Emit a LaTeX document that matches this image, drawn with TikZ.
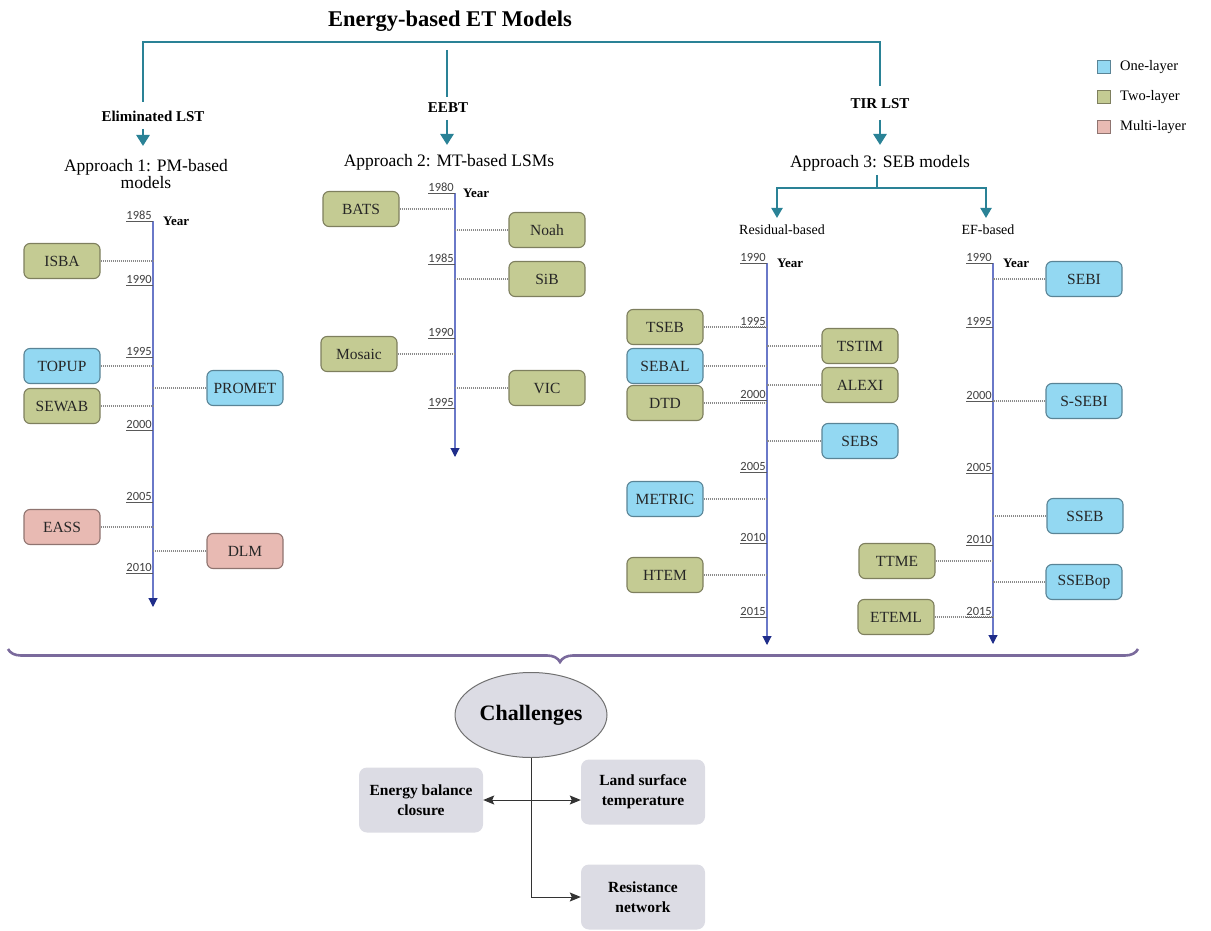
\documentclass[tikz,border=0pt]{standalone}
\usepackage{fontspec}
\setmainfont{Liberation Serif}
\newfontfamily\yrfont{Carlito}
\usetikzlibrary{arrows.meta,shapes.geometric,decorations.pathreplacing}

\definecolor{tealc}{HTML}{2A8296}
\definecolor{cyanfill}{HTML}{93D8F2}
\definecolor{cyanedge}{HTML}{5A8496}
\definecolor{greenfill}{HTML}{C4CB93}
\definecolor{greenedge}{HTML}{7E7F5E}
\definecolor{pinkfill}{HTML}{E8BAB3}
\definecolor{pinkedge}{HTML}{8F7470}
\definecolor{axisc}{HTML}{6A78C8}
\definecolor{tipc}{HTML}{1F2D8A}
\definecolor{connc}{HTML}{8A8A8A}
\definecolor{bracec}{HTML}{7A6A9C}
\definecolor{chalfill}{HTML}{DCDCE4}
\definecolor{chaledge}{HTML}{707070}

\newcommand{\fsz}[2]{\fontsize{#1}{#2}\selectfont}
% year tick: axis x, y, label, node name
\newcommand{\yrtick}[4]{%
  \draw[tickline] ({#1-27},#2) -- (#1,#2);
  \node[yrlbl] (#4) at (#1,#2) {#3};}

\tikzset{
  mbox/.style={draw, rounded corners=6pt, minimum width=76pt, minimum height=35pt,
    line width=1.1pt, inner sep=1pt, font=\fsz{15.5}{18}, text=black!85},
  onel/.style={mbox, fill=cyanfill, draw=cyanedge},
  twol/.style={mbox, fill=greenfill, draw=greenedge},
  multil/.style={mbox, fill=pinkfill, draw=pinkedge},
  conn/.style={draw=connc, line width=1.2pt, dash pattern=on 1pt off 1pt},
  axisline/.style={draw=axisc, line width=1.1pt,
    -{Triangle[length=9pt,width=9pt,color=tipc]}},
  tickline/.style={draw=black!65, line width=0.8pt},
  yrlbl/.style={font=\yrfont\fsz{12.5}{14}, text=black!75, inner sep=1pt, anchor=south east},
  yearlbl/.style={font=\bfseries\fsz{13}{15}, anchor=west, inner sep=0pt},
  tealline/.style={draw=tealc, line width=2.6pt},
  tealarrow/.style={draw=tealc, line width=2.6pt, -{Triangle[length=11pt,width=13pt]}},
  subarrow/.style={draw=tealc, line width=2pt, -{Triangle[length=10pt,width=11pt]}},
  branch/.style={font=\bfseries\fsz{15}{17}, inner sep=1pt},
  approach/.style={font=\fsz{17.5}{18}, align=center, inner sep=1pt},
  sublbl/.style={font=\fsz{14}{16}, inner sep=1pt},
  legsq/.style={draw, line width=0.9pt, minimum size=13pt, inner sep=0pt},
  legtxt/.style={font=\fsz{14.5}{16}, anchor=west, inner sep=0pt},
  chbox/.style={fill=chalfill, rounded corners=8pt, minimum width=124pt,
    minimum height=65pt, align=center, font=\bfseries\fsz{15.5}{20}, inner sep=2pt},
  blk/.style={draw=black!80, line width=1pt},
  blktip/.tip={Stealth[length=11pt,width=9pt,inset=2pt]},
}

\begin{document}
\begin{tikzpicture}[x=1pt,y=-1pt]
\useasboundingbox (0,0) rectangle (1211,931);

% ---------- title and top-level branches ----------
\node[font=\bfseries\fsz{22.5}{26}] (title) at (450,21) {Energy-based ET Models};
\coordinate (brL) at (143,102);
\coordinate (brLt) at (143,42);
\coordinate (brRt) at (880,42);
\coordinate (brR) at (880,86);
\draw[tealline, line join=miter] (brL) -- (brLt) -- (brRt) -- (brR);
\coordinate (brMt) at (447,50);
\coordinate (brMb) at (447,97);
\draw[tealline] (brMt) -- (brMb);

\node[branch] (elim) at (153,116) {Eliminated LST};
\node[branch] (eebt) at (448,108) {EEBT};
\node[branch] (tir) at (880,104) {TIR LST};

\coordinate (a1s) at (143,129); \coordinate (a1e) at (143,146);
\coordinate (a2s) at (447,120); \coordinate (a2e) at (447,145);
\coordinate (a3s) at (880,120); \coordinate (a3e) at (880,145);
\draw[tealarrow] (a1s) -- (a1e);
\draw[tealarrow] (a2s) -- (a2e);
\draw[tealarrow] (a3s) -- (a3e);

\node[approach] (app1) at (146,174) {Approach 1: PM-based\\[-1pt]models};
\node[approach] (app2) at (449,162) {Approach 2: MT-based LSMs};
\node[approach] (app3) at (880,163) {Approach 3: SEB models};

% SEB split
\coordinate (s3a) at (877,175);
\coordinate (s3b) at (877,188);
\coordinate (resT) at (777,218);
\coordinate (efT) at (986,218);
\draw[draw=tealc, line width=2pt] (s3a) -- (s3b);
\draw[subarrow] (s3b) -| (resT);
\draw[subarrow] (s3b) -| (efT);
\node[sublbl] (resid) at (782,230) {Residual-based};
\node[sublbl] (efb) at (988,230) {EF-based};

% ---------- legend ----------
\node[legsq, fill=cyanfill, draw=cyanedge] (lg1) at (1104,67) {};
\node[legsq, fill=greenfill, draw=greenedge] (lg2) at (1104,97) {};
\node[legsq, fill=pinkfill, draw=pinkedge] (lg3) at (1104,127) {};
\node[legtxt] (lt1) at (1120,67) {One-layer};
\node[legtxt] (lt2) at (1120,97) {Two-layer};
\node[legtxt] (lt3) at (1120,127) {Multi-layer};

% ---------- timeline 1: PM-based ----------
\coordinate (ax1) at (153,221);
\coordinate (ax1b) at (153,607);
\draw[axisline] (ax1) -- (ax1b);
\yrtick{153}{221}{1985}{ya85}
\yrtick{153}{285}{1990}{ya90}
\yrtick{153}{357}{1995}{ya95}
\yrtick{153}{430}{2000}{ya00}
\yrtick{153}{502}{2005}{ya05}
\yrtick{153}{573}{2010}{ya10}
\node[yearlbl] (yr1) at (163,221) {Year};

\node[twol] (isba) at (62,261) {ISBA};
\node[onel] (topup) at (62,366) {TOPUP};
\node[twol] (sewab) at (62,406) {SEWAB};
\node[onel] (promet) at (245,388) {PROMET};
\node[multil] (eass) at (62,527) {EASS};
\node[multil] (dlm) at (245,551) {DLM};
\foreach \b in {isba,topup,sewab,eass}
  \draw[conn] (\b.east) -- (\b.east -| ax1);
\foreach \b in {promet,dlm}
  \draw[conn] (\b.west) -- (\b.west -| ax1);

% ---------- timeline 2: MT-based LSMs ----------
\coordinate (ax2) at (455,193);
\coordinate (ax2b) at (455,457);
\draw[axisline] (ax2) -- (ax2b);
\yrtick{455}{193}{1980}{yb80}
\yrtick{455}{264}{1985}{yb85}
\yrtick{455}{338}{1990}{yb90}
\yrtick{455}{408}{1995}{yb95}
\node[yearlbl] (yr2) at (463,193) {Year};

\node[twol] (bats) at (361,209) {BATS};
\node[twol] (noah) at (547,230) {Noah};
\node[twol] (sib) at (547,279) {SiB};
\node[twol] (mosaic) at (359,354) {Mosaic};
\node[twol] (vic) at (547,388) {VIC};
\foreach \b in {bats,mosaic}
  \draw[conn] (\b.east) -- (\b.east -| ax2);
\foreach \b in {noah,sib,vic}
  \draw[conn] (\b.west) -- (\b.west -| ax2);

% ---------- timeline 3: residual-based ----------
\coordinate (ax3) at (767,263);
\coordinate (ax3b) at (767,645);
\draw[axisline] (ax3) -- (ax3b);
\yrtick{767}{263}{1990}{yc90}
\yrtick{767}{327}{1995}{yc95}
\yrtick{767}{400}{2000}{yc00}
\yrtick{767}{472}{2005}{yc05}
\yrtick{767}{543}{2010}{yc10}
\yrtick{767}{617}{2015}{yc15}
\node[yearlbl] (yr3) at (777,263) {Year};

\node[twol] (tseb) at (665,327) {TSEB};
\node[onel] (sebal) at (665,366) {SEBAL};
\node[twol] (dtd) at (665,403) {DTD};
\node[onel] (metric) at (665,499) {METRIC};
\node[twol] (htem) at (665,575) {HTEM};
\node[twol] (tstim) at (860,346) {TSTIM};
\node[twol] (alexi) at (860,385) {ALEXI};
\node[onel] (sebs) at (860,441) {SEBS};
\foreach \b in {tseb,sebal,dtd,metric,htem}
  \draw[conn] (\b.east) -- (\b.east -| ax3);
\foreach \b in {tstim,alexi,sebs}
  \draw[conn] (\b.west) -- (\b.west -| ax3);

% ---------- timeline 4: EF-based ----------
\coordinate (ax4) at (993,263);
\coordinate (ax4b) at (993,644);
\draw[axisline] (ax4) -- (ax4b);
\yrtick{993}{263}{1990}{yd90}
\yrtick{993}{327}{1995}{yd95}
\yrtick{993}{401}{2000}{yd00}
\yrtick{993}{473}{2005}{yd05}
\yrtick{993}{545}{2010}{yd10}
\yrtick{993}{617}{2015}{yd15}
\node[yearlbl] (yr4) at (1003,263) {Year};

\node[onel] (sebi) at (1084,279) {SEBI};
\node[onel] (ssebi) at (1084,401) {S-SEBI};
\node[onel] (sseb) at (1085,516) {SSEB};
\node[onel] (ssebop) at (1084,582) {SSEBop};
\node[twol] (ttme) at (897,561) {TTME};
\node[twol] (eteml) at (896,617) {ETEML};
\foreach \b in {sebi,ssebi,sseb,ssebop}
  \draw[conn] (\b.west) -- (\b.west -| ax4);
\foreach \b in {ttme,eteml}
  \draw[conn] (\b.east) -- (\b.east -| ax4);

% ---------- brace ----------
\coordinate (brA) at (8,649);
\coordinate (brB) at (1138,649);
\draw[draw=bracec, line width=2.6pt, decorate,
  decoration={brace, mirror, amplitude=13pt, aspect=0.4885}] (brA) -- (brB);

% ---------- challenges ----------
\node[ellipse, fill=chalfill, draw=chaledge, line width=1pt, minimum width=152pt,
  minimum height=85pt, inner sep=0pt, font=\bfseries\fsz{22}{24}] (chal) at (531,715) {Challenges};
\node[chbox] (ebc) at (421,800) {Energy balance\\closure};
\node[chbox] (lst) at (643,792) {Land surface\\temperature};
\node[chbox] (rn) at (643,897) {Resistance\\network};
\draw[blk, -blktip] (chal.south) |- (rn.west);
\draw[blk, blktip-blktip] (ebc.east) -- (ebc.east -| lst.west);
\end{tikzpicture}
\end{document}
